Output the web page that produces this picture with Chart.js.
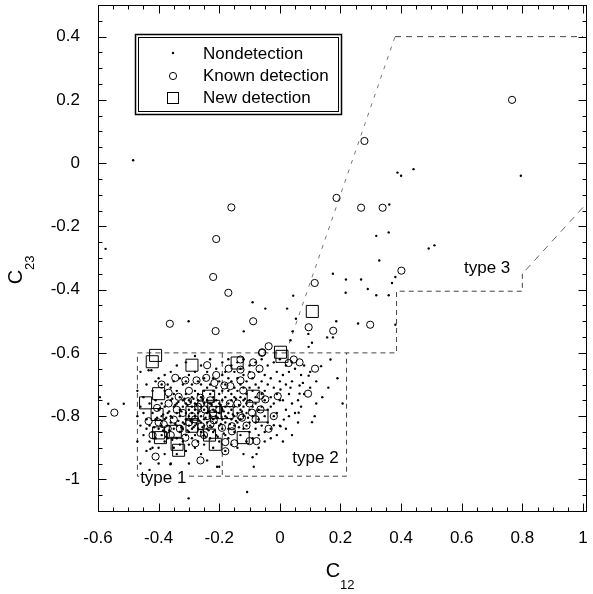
<!DOCTYPE html>
<html>
<head>
<meta charset="utf-8">
<script src="https://cdn.jsdelivr.net/npm/chart.js@4.4.0/dist/chart.umd.min.js"></script>
<style>
  html, body { margin: 0; padding: 0; background: #fff; }
</style>
</head>
<body>
<canvas id="myChart" width="593" height="594"></canvas>
<script>
  // axis ticks
  var xTicks = [-0.6, -0.4, -0.2, 0, 0.2, 0.4, 0.6, 0.8, 1];
  var yTicks = [-1, -0.8, -0.6, -0.4, -0.2, 0, 0.2, 0.4];
  var legendLabels = ["Nondetection", "Known detection", "New detection"];
  var regionLabels = ["type 1", "type 2", "type 3"];

  // region boundaries (C12, C23)
  var leftSlant = [[0.02, -0.6], [0.38, 0.4]];
  var topEdge = [[0.38, 0.4], [1.0, 0.4]];
  var rightSlant = [[1.0, -0.14], [0.8, -0.35]];
  var outerEdge = [[0.8, -0.35], [0.8, -0.405], [0.385, -0.405], [0.385, -0.6], [-0.47, -0.6],
    [-0.47, -0.99], [0.22, -0.99], [0.22, -0.6]];
  var divider = [[-0.19, -0.6], [-0.19, -0.99]];

  // new detections
  var newDetection = [
    [-0.41, -0.608], [-0.421, -0.628], [-0.29, -0.639], [-0.4, -0.729], [-0.443, -0.758],
    [-0.235, -0.737], [-0.218, -0.769], [-0.213, -0.789], [-0.29, -0.789], [-0.405, -0.795],
    [-0.29, -0.832], [-0.4, -0.853], [-0.394, -0.868], [-0.345, -0.848], [-0.339, -0.889],
    [-0.334, -0.908], [-0.232, -0.86], [-0.213, -0.889], [-0.174, -0.789], [-0.141, -0.632],
    [-0.088, -0.737], [-0.059, -0.8], [-0.121, -0.868], [0.002, -0.598], [0.007, -0.611],
    [0.107, -0.469]
  ];

  // known detections
  var knownDetection = [
    [-0.16, -0.14], [-0.21, -0.24], [-0.22, -0.36], [-0.17, -0.41], [0.766, 0.2], [0.279, 0.07],
    [0.187, -0.11], [0.268, -0.141], [0.339, -0.141], [0.401, -0.34], [0.115, -0.379],
    [-0.088, -0.5], [-0.212, -0.531], [-0.363, -0.508], [0.095, -0.519], [0.176, -0.53],
    [0.298, -0.511], [-0.037, -0.579], [-0.058, -0.598], [0.046, -0.621], [0.065, -0.63],
    [0.116, -0.65], [0.093, -0.729], [-0.037, -0.84], [-0.546, -0.789],
    [-0.24, -0.639], [-0.345, -0.679], [-0.312, -0.687], [-0.275, -0.687], [-0.243, -0.679],
    [-0.367, -0.726], [-0.334, -0.739], [-0.303, -0.753], [-0.262, -0.742], [-0.13, -0.621],
    [-0.169, -0.65], [-0.13, -0.653], [-0.088, -0.63], [-0.067, -0.65], [-0.059, -0.6],
    [-0.094, -0.671], [-0.13, -0.687], [-0.121, -0.719], [-0.064, -0.735], [-0.048, -0.747],
    [-0.007, -0.737], [0.029, -0.632], [-0.092, -0.789], [-0.125, -0.805], [-0.158, -0.832],
    [-0.191, -0.837], [-0.158, -0.848], [-0.18, -0.882], [-0.18, -0.911], [-0.15, -0.886],
    [-0.1, -0.879], [-0.077, -0.879], [-0.248, -0.779], [-0.26, -0.832], [-0.312, -0.868],
    [-0.279, -0.886], [-0.262, -0.853], [-0.41, -0.928], [-0.262, -0.94], [-0.35, -0.811],
    [-0.383, -0.826], [-0.433, -0.816], [-0.405, -0.774], [-0.367, -0.76], [-0.218, -0.813],
    [-0.229, -0.826], [-0.216, -0.695], [-0.183, -0.703], [-0.064, -0.779], [-0.02, -0.8],
    [-0.163, -0.705], [-0.29, -0.8], [-0.27, -0.77], [-0.2, -0.78], [-0.23, -0.75],
    [-0.33, -0.84], [-0.36, -0.86], [-0.3, -0.72], [-0.1, -0.76], [-0.14, -0.76],
    [-0.4, -0.82], [-0.21, -0.67], [-0.165, -0.76],
    [-0.32, -0.79], [-0.28, -0.81], [-0.24, -0.8], [-0.3, -0.82], [-0.26, -0.76], [-0.34, -0.78],
    [-0.22, -0.79], [-0.25, -0.86], [-0.37, -0.84], [-0.42, -0.86], [-0.39, -0.7], [-0.13, -0.8],
    [-0.11, -0.83], [-0.08, -0.81]
  ];

  // nondetections
  var nondetection = [
    [-0.484, 0.009], [-0.575, -0.271], [0.388, -0.03], [0.4, -0.04], [0.441, -0.019], [0.795, -0.04],
    [0.361, -0.131], [0.318, -0.23], [0.359, -0.219], [0.491, -0.27], [0.51, -0.26], [0.328, -0.308],
    [0.175, -0.35], [0.218, -0.368], [0.268, -0.368], [0.29, -0.398], [0.217, -0.41], [0.318, -0.418],
    [0.359, -0.418], [0.37, -0.379], [0.381, -0.36], [0.044, -0.419], [-0.09, -0.44], [-0.048, -0.46],
    [0.024, -0.46], [0.053, -0.492], [-0.119, -0.532], [-0.301, -0.5], [0.094, -0.54], [0.186, -0.5],
    [0.258, -0.507], [0.381, -0.511], [0.156, -0.551], [0.175, -0.551], [0.042, -0.532], [0.035, -0.56],
    [0.106, -0.568], [0.095, -0.581], [-0.566, -0.761], [-0.515, -0.761], [-0.594, -0.74],
    [-0.108, -1.04], [-0.301, -1.06], [0.065, -0.729], [0.136, -0.642], [0.076, -0.695], [0.062, -0.789],
    [0.115, -0.8], [0.207, -0.76], [0.002, -0.832], [0.167, -0.621], [0.095, -0.672], [0.065, -0.703],
    [0.035, -0.71], [0.106, -0.819], [0.013, -0.811], [-0.02, -0.829], [0.002, -0.716], [-0.207, -0.96],
    [-0.086, -0.96], [-0.077, -0.92], [-0.361, -0.952], [-0.427, -0.904],
    [-0.47, -0.72], [-0.47, -0.8], [-0.47, -0.88],
    [-0.46, -0.66], [-0.46, -0.77], [-0.46, -0.83], [-0.46, -0.95],
    [-0.45, -0.74], [-0.45, -0.79], [-0.45, -0.86],
    [-0.44, -0.7], [-0.44, -0.81], [-0.44, -0.84], [-0.44, -0.91],
    [-0.433, -0.655], [-0.43, -0.76], [-0.43, -0.83], [-0.43, -0.88], [-0.43, -0.97],
    [-0.424, -0.655], [-0.42, -0.72], [-0.42, -0.79], [-0.42, -0.85], [-0.42, -0.9],
    [-0.41, -0.69], [-0.41, -0.75], [-0.41, -0.81], [-0.41, -0.87],
    [-0.4, -0.68], [-0.4, -0.78], [-0.4, -0.84], [-0.4, -0.9], [-0.4, -0.95],
    [-0.39, -0.7], [-0.39, -0.76], [-0.39, -0.8], [-0.39, -0.83], [-0.39, -0.86],
    [-0.38, -0.67], [-0.38, -0.72], [-0.38, -0.77], [-0.38, -0.81], [-0.38, -0.85], [-0.38, -0.88], [-0.38, -0.92],
    [-0.37, -0.7], [-0.37, -0.74], [-0.37, -0.79], [-0.37, -0.83], [-0.37, -0.87],
    [-0.36, -0.66], [-0.36, -0.71], [-0.36, -0.75], [-0.36, -0.8], [-0.36, -0.82], [-0.36, -0.95],
    [-0.35, -0.69], [-0.35, -0.73], [-0.35, -0.77], [-0.35, -0.84], [-0.35, -0.9],
    [-0.34, -0.64], [-0.34, -0.72], [-0.34, -0.76], [-0.34, -0.79], [-0.34, -0.83], [-0.34, -0.87], [-0.34, -0.92],
    [-0.33, -0.68], [-0.33, -0.74], [-0.33, -0.78], [-0.33, -0.8], [-0.33, -0.85], [-0.33, -0.89],
    [-0.32, -0.7], [-0.32, -0.75], [-0.32, -0.77], [-0.32, -0.82], [-0.32, -0.84], [-0.32, -0.88],
    [-0.31, -0.63], [-0.31, -0.69], [-0.31, -0.73], [-0.31, -0.76], [-0.31, -0.79], [-0.31, -0.81], [-0.31, -0.86], [-0.31, -0.91],
    [-0.3, -0.67], [-0.3, -0.75], [-0.3, -0.78], [-0.3, -0.8], [-0.3, -0.83], [-0.3, -0.85], [-0.3, -0.89], [-0.3, -0.95],
    [-0.29, -0.7], [-0.29, -0.74], [-0.29, -0.77], [-0.29, -0.79], [-0.29, -0.82], [-0.29, -0.84], [-0.29, -0.87],
    [-0.28, -0.61], [-0.28, -0.66], [-0.28, -0.72], [-0.28, -0.76], [-0.28, -0.78], [-0.28, -0.8], [-0.28, -0.83], [-0.28, -0.86], [-0.28, -0.9],
    [-0.27, -0.69], [-0.27, -0.73], [-0.27, -0.75], [-0.27, -0.79], [-0.27, -0.81], [-0.27, -0.84], [-0.27, -0.88],
    [-0.26, -0.64], [-0.26, -0.7], [-0.26, -0.74], [-0.26, -0.77], [-0.26, -0.8], [-0.26, -0.82], [-0.26, -0.85], [-0.26, -0.92],
    [-0.25, -0.68], [-0.25, -0.72], [-0.25, -0.76], [-0.25, -0.78], [-0.25, -0.81], [-0.25, -0.83], [-0.25, -0.86], [-0.25, -0.89],
    [-0.24, -0.66], [-0.24, -0.71], [-0.24, -0.75], [-0.24, -0.77], [-0.24, -0.79], [-0.24, -0.82], [-0.24, -0.84], [-0.24, -0.94],
    [-0.23, -0.62], [-0.23, -0.7], [-0.23, -0.73], [-0.23, -0.76], [-0.23, -0.8], [-0.23, -0.83], [-0.23, -0.87],
    [-0.22, -0.68], [-0.22, -0.72], [-0.22, -0.74], [-0.22, -0.78], [-0.22, -0.81], [-0.22, -0.85], [-0.22, -0.9],
    [-0.21, -0.65], [-0.21, -0.71], [-0.21, -0.75], [-0.21, -0.77], [-0.21, -0.8], [-0.21, -0.82], [-0.21, -0.86],
    [-0.2, -0.69], [-0.2, -0.73], [-0.2, -0.76], [-0.2, -0.79], [-0.2, -0.83], [-0.2, -0.88], [-0.2, -0.96],
    [-0.19, -0.63], [-0.19, -0.67], [-0.19, -0.72], [-0.19, -0.75], [-0.19, -0.78], [-0.19, -0.81], [-0.19, -0.84],
    [-0.18, -0.66], [-0.18, -0.7], [-0.18, -0.74], [-0.18, -0.77], [-0.18, -0.8], [-0.18, -0.82], [-0.18, -0.86], [-0.18, -0.91],
    [-0.17, -0.62], [-0.17, -0.68], [-0.17, -0.72], [-0.17, -0.76], [-0.17, -0.79], [-0.17, -0.84], [-0.17, -0.87],
    [-0.16, -0.64], [-0.16, -0.69], [-0.16, -0.73], [-0.16, -0.75], [-0.16, -0.78], [-0.16, -0.81], [-0.16, -0.89],
    [-0.15, -0.66], [-0.15, -0.71], [-0.15, -0.74], [-0.15, -0.77], [-0.15, -0.8], [-0.15, -0.83], [-0.15, -0.85],
    [-0.14, -0.63], [-0.14, -0.68], [-0.14, -0.72], [-0.14, -0.79], [-0.14, -0.82], [-0.14, -0.9],
    [-0.13, -0.65], [-0.13, -0.7], [-0.13, -0.74], [-0.13, -0.78], [-0.13, -0.81], [-0.13, -0.86],
    [-0.12, -0.62], [-0.12, -0.67], [-0.12, -0.71], [-0.12, -0.75], [-0.12, -0.77], [-0.12, -0.8], [-0.12, -0.84], [-0.12, -0.92],
    [-0.11, -0.69], [-0.11, -0.73], [-0.11, -0.76], [-0.11, -0.79], [-0.11, -0.83], [-0.11, -0.88],
    [-0.1, -0.64], [-0.1, -0.66], [-0.1, -0.71], [-0.1, -0.75], [-0.1, -0.78], [-0.1, -0.82], [-0.1, -0.85],
    [-0.09, -0.68], [-0.09, -0.72], [-0.09, -0.77], [-0.09, -0.8], [-0.09, -0.87], [-0.09, -0.93],
    [-0.08, -0.63], [-0.08, -0.7], [-0.08, -0.74], [-0.08, -0.76], [-0.08, -0.82], [-0.08, -0.84],
    [-0.07, -0.66], [-0.07, -0.71], [-0.07, -0.78], [-0.07, -0.81], [-0.07, -0.86], [-0.07, -0.9],
    [-0.06, -0.62], [-0.06, -0.69], [-0.06, -0.73], [-0.06, -0.77], [-0.06, -0.83],
    [-0.05, -0.67], [-0.05, -0.72], [-0.05, -0.75], [-0.05, -0.8], [-0.05, -0.85], [-0.05, -0.88],
    [-0.04, -0.64], [-0.04, -0.7], [-0.04, -0.78], [-0.04, -0.82],
    [-0.03, -0.68], [-0.03, -0.74], [-0.03, -0.77], [-0.03, -0.84], [-0.03, -0.87],
    [-0.02, -0.63], [-0.02, -0.71], [-0.02, -0.76], [-0.02, -0.8],
    [-0.01, -0.66], [-0.01, -0.73], [-0.01, -0.79], [-0.01, -0.86],
    [0.0, -0.62], [0.0, -0.69], [0.0, -0.75], [0.0, -0.83],
    [0.01, -0.67], [0.01, -0.75], [0.01, -0.88],
    [0.02, -0.64], [0.02, -0.7], [0.02, -0.78], [0.02, -0.84],
    [0.03, -0.66], [0.03, -0.73], [0.03, -0.8],
    [0.04, -0.63], [0.04, -0.69], [0.04, -0.76], [0.04, -0.86],
    [0.05, -0.65], [0.05, -0.79],
    [0.06, -0.75], [0.06, -0.82],
    [0.07, -0.67], [0.07, -0.77],
    [0.08, -0.64], [0.08, -0.73],
    [0.1, -0.66], [0.1, -0.71],
    [0.12, -0.69], [0.12, -0.76],
    [0.14, -0.74], [0.16, -0.71], [0.19, -0.68],
    [-0.355, -0.745], [-0.345, -0.765], [-0.335, -0.755], [-0.325, -0.785], [-0.315, -0.745],
    [-0.305, -0.765], [-0.295, -0.755], [-0.285, -0.745], [-0.275, -0.765], [-0.265, -0.785],
    [-0.255, -0.745], [-0.245, -0.805], [-0.235, -0.785], [-0.225, -0.765], [-0.215, -0.785],
    [-0.205, -0.805], [-0.195, -0.765], [-0.185, -0.785], [-0.175, -0.805], [-0.165, -0.825],
    [-0.355, -0.805], [-0.345, -0.825], [-0.335, -0.815], [-0.325, -0.835], [-0.315, -0.825],
    [-0.305, -0.845], [-0.295, -0.815], [-0.285, -0.835], [-0.275, -0.825], [-0.265, -0.815],
    [-0.255, -0.835], [-0.245, -0.865], [-0.235, -0.845], [-0.225, -0.835], [-0.215, -0.845],
    [-0.205, -0.865], [-0.195, -0.825], [-0.185, -0.855],
    [-0.365, -0.785], [-0.375, -0.805], [-0.385, -0.795], [-0.395, -0.775], [-0.405, -0.805],
    [-0.415, -0.835], [-0.385, -0.845], [-0.375, -0.865], [-0.365, -0.845], [-0.355, -0.875],
    [-0.145, -0.745], [-0.135, -0.765], [-0.125, -0.785], [-0.115, -0.745], [-0.105, -0.805],
    [-0.155, -0.795], [-0.145, -0.815], [-0.135, -0.835]
  ];

  function toXY(arr) {
    return arr.map(function (d) {
      return { x: d[0], y: d[1] };
    });
  }

  function fmt(v) {
    return String(Math.round(v * 10) / 10);
  }

  var FONT = "Liberation Sans, Arial, Helvetica, sans-serif";

  function boundary(points, color, dash, order) {
    return {
      data: toXY(points),
      showLine: true,
      borderColor: color,
      borderWidth: 1,
      borderDash: dash,
      pointRadius: 0,
      fill: false,
      order: order,
    };
  }

  var decorations = {
    id: "decorations",
    afterDatasetsDraw: function (chart) {
      var ctx = chart.ctx;
      var x = chart.scales.x;
      var y = chart.scales.y;
      ctx.save();
      ctx.font = "17px " + FONT;
      ctx.textBaseline = "middle";
      ctx.textAlign = "left";
      ctx.fillStyle = "#000";
      // type 1 sits on the dashed bottom edge
      var t1x = x.getPixelForValue(-0.461);
      var t1y = y.getPixelForValue(-0.99) + 2;
      var w = ctx.measureText(regionLabels[0]).width;
      ctx.fillStyle = "#fff";
      ctx.fillRect(t1x - 1, t1y - 6, w + 2, 10);
      ctx.fillStyle = "#000";
      ctx.fillText(regionLabels[0], t1x, t1y);
      ctx.fillText(regionLabels[1], x.getPixelForValue(0.041), y.getPixelForValue(-0.932));
      ctx.fillText(regionLabels[2], x.getPixelForValue(0.6075), y.getPixelForValue(-0.332));
      ctx.restore();
    },
    afterDraw: function (chart) {
      var ctx = chart.ctx;
      var a = chart.chartArea;
      var x = chart.scales.x;
      var y = chart.scales.y;
      ctx.save();
      ctx.strokeStyle = "#000";
      ctx.lineWidth = 1;
      var L = Math.round(a.left) + 0.5, R = Math.round(a.right) + 0.5;
      var T = Math.round(a.top) + 0.5, B = Math.round(a.bottom) + 0.5;
      ctx.strokeRect(L, T, R - L, B - T);

      // inward ticks on all four sides
      ctx.beginPath();
      var v, px, len;
      for (var i = 0; i <= 32; i++) {
        v = Math.round((-0.6 + i * 0.05) * 100) / 100;
        px = Math.round(x.getPixelForValue(v)) + 0.5;
        len = i % 4 === 0 ? 8 : 4;
        ctx.moveTo(px, B); ctx.lineTo(px, B - len);
        ctx.moveTo(px, T); ctx.lineTo(px, T + len);
      }
      for (var j = 0; j <= 32; j++) {
        v = Math.round((-1.1 + j * 0.05) * 100) / 100;
        px = Math.round(y.getPixelForValue(v)) + 0.5;
        len = (j - 2) % 4 === 0 ? 8 : 4;
        ctx.moveTo(L, px); ctx.lineTo(L + len, px);
        ctx.moveTo(R, px); ctx.lineTo(R - len, px);
      }
      ctx.stroke();

      // tick labels
      ctx.fillStyle = "#000";
      ctx.font = "17px " + FONT;
      ctx.textBaseline = "middle";
      ctx.textAlign = "center";
      xTicks.forEach(function (t) {
        ctx.fillText(fmt(t), x.getPixelForValue(t), 538);
      });
      ctx.textAlign = "right";
      yTicks.forEach(function (t) {
        ctx.fillText(fmt(t), 80, y.getPixelForValue(t));
      });

      // axis titles with subscripts
      ctx.font = "20px " + FONT;
      ctx.textAlign = "center";
      ctx.fillText("C", 333, 571);
      ctx.font = "13px " + FONT;
      ctx.textAlign = "left";
      ctx.fillText("12", 340, 585);

      ctx.save();
      ctx.translate(16, 277);
      ctx.rotate(-Math.PI / 2);
      ctx.font = "20px " + FONT;
      ctx.textAlign = "center";
      ctx.fillText("C", 0, 0);
      ctx.font = "13px " + FONT;
      ctx.textAlign = "left";
      ctx.fillText("23", 7, 14);
      ctx.restore();

      // legend box with double border
      ctx.fillStyle = "#fff";
      ctx.fillRect(135, 34, 207, 81);
      ctx.lineWidth = 1.5;
      ctx.strokeRect(135.5, 34.5, 206, 80);
      ctx.lineWidth = 1;
      ctx.strokeRect(138.5, 37.5, 200, 74);

      ctx.fillStyle = "#000";
      ctx.beginPath();
      ctx.arc(173, 53, 1.2, 0, Math.PI * 2);
      ctx.fill();
      ctx.beginPath();
      ctx.arc(173, 76, 3.6, 0, Math.PI * 2);
      ctx.stroke();
      ctx.strokeRect(167.5, 92.5, 11, 11);

      ctx.font = "17px " + FONT;
      ctx.textAlign = "left";
      ctx.textBaseline = "middle";
      ctx.fillText(legendLabels[0], 203, 54);
      ctx.fillText(legendLabels[1], 203, 76);
      ctx.fillText(legendLabels[2], 203, 98);
      ctx.restore();
    },
  };

  var ctx = document.getElementById("myChart").getContext("2d");
  var config = {
    type: "scatter",
    data: {
      datasets: [
        {
          label: legendLabels[0],
          data: toXY(nondetection),
          pointStyle: "circle",
          pointRadius: 1.2,
          pointBorderWidth: 0,
          pointBackgroundColor: "#000",
          order: 1,
        },
        {
          label: legendLabels[1],
          data: toXY(knownDetection),
          pointStyle: "circle",
          pointRadius: 3.6,
          pointBorderWidth: 1,
          pointBorderColor: "#000",
          pointBackgroundColor: "rgba(0,0,0,0)",
          order: 2,
        },
        {
          label: legendLabels[2],
          data: toXY(newDetection),
          pointStyle: "rect",
          pointRadius: 8.5,
          pointBorderWidth: 1,
          pointBorderColor: "#000",
          pointBackgroundColor: "rgba(0,0,0,0)",
          order: 3,
        },
        boundary(leftSlant, "#777", [4, 6], 10),
        boundary(topEdge, "#444", [6, 5], 10),
        boundary(rightSlant, "#666", [7, 6], 10),
        boundary(outerEdge, "#444", [5, 4], 10),
        boundary(divider, "#444", [5, 4], 10),
      ],
    },
    options: {
      responsive: false,
      animation: false,
      events: [],
      layout: { autoPadding: false, padding: { top: 5, right: 7, left: 0, bottom: 0 } },
      scales: {
        x: {
          type: "linear",
          min: -0.6,
          max: 1.01,
          grid: { display: false, drawTicks: false },
          border: { display: false },
          ticks: { display: false },
          afterFit: function (scale) { scale.height = 83; },
        },
        y: {
          type: "linear",
          min: -1.1,
          max: 0.5,
          grid: { display: false, drawTicks: false },
          border: { display: false },
          ticks: { display: false },
          afterFit: function (scale) { scale.width = 98; },
        },
      },
      plugins: {
        legend: { display: false },
        tooltip: { enabled: false },
      },
    },
    plugins: [decorations],
  };
  var myChart = new Chart(ctx, config);
</script>
</body>
</html>
